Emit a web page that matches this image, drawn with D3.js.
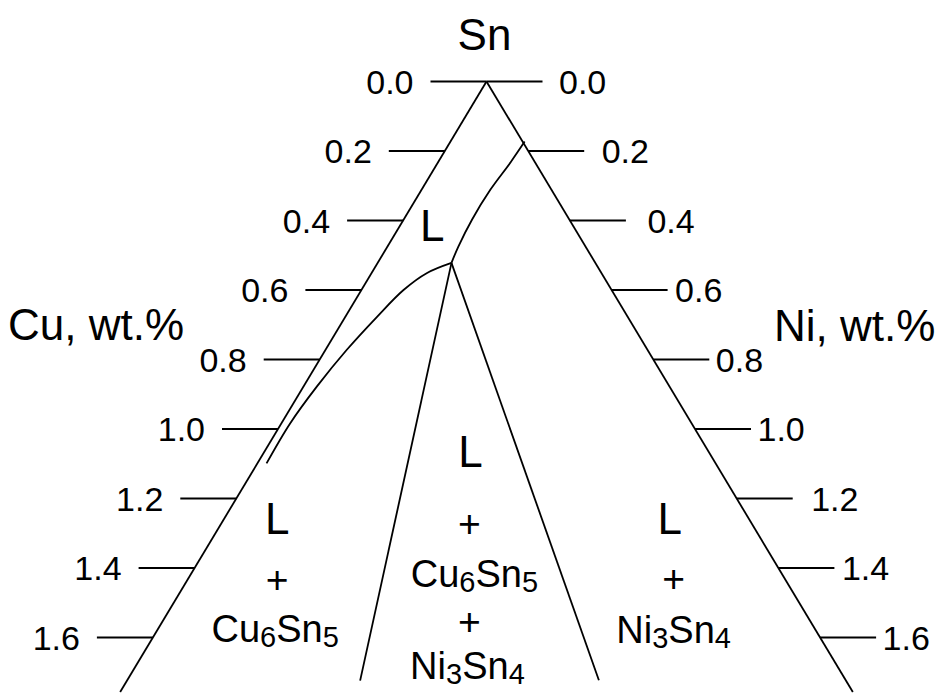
<!DOCTYPE html>
<html>
<head>
<meta charset="UTF-8">
<title>Sn-Cu-Ni corner</title>
<script src="https://d3js.org/d3.v7.min.js"></script>
<style>
  body { margin: 0; background: #fff; }
  svg text { font-family: "Liberation Sans", Arial, sans-serif; fill: #000; }
</style>
</head>
<body>
<div id="chart"></div>
<script>
// tick values on both axes (wt.%)
var tickValues = [0.0, 0.2, 0.4, 0.6, 0.8, 1.0, 1.2, 1.4, 1.6];
var tickLabels = ["0.0", "0.2", "0.4", "0.6", "0.8", "1.0", "1.2", "1.4", "1.6"];

// phase boundaries, points given as [Cu, Ni] in wt.%
var liqNi3Sn4 = [[-0.005, 0.178], [0.059, 0.174], [0.146, 0.165], [0.233, 0.164], [0.305, 0.170], [0.345, 0.177]];
var liqCu6Sn5 = [[0.345, 0.177], [0.418, 0.133], [0.499, 0.101], [0.601, 0.076], [0.721, 0.051], [0.846, 0.032], [0.963, 0.021], [1.077, 0.022]];
var cu6Sn5Tie = [[0.345, 0.177], [1.165, 0.559]];
var ni3Sn4Tie = [[0.345, 0.177], [0.592, 1.131]];
var edgeCu = [[0, 0], [1.757, 0]];
var edgeNi = [[0, 0], [0, 1.757]];

// phase field labels: anchor [Cu, Ni] and lines
var fieldAnchors = [[0.359, 0.099], [1.153, 0.149], [0.593, 0.516], [0.207, 1.095]];
var fieldLines = [
  [[["L", 0]]],
  [[["L", 0]], [["+", 0]], [["Cu", 0], ["6", 1], ["Sn", 0], ["5", 1]]],
  [[["L", 0]], [["+", 0]], [["Cu", 0], ["6", 1], ["Sn", 0], ["5", 1]], [["+", 0]], [["Ni", 0], ["3", 1], ["Sn", 0], ["4", 1]]],
  [[["L", 0]], [["+", 0]], [["Ni", 0], ["3", 1], ["Sn", 0], ["4", 1]]]
];

// layout
var width = 938, height = 695;
var tickLen = 56;
var rightGap = [18, 19, 23, 9, 8, 8, 20, 9, 8];
var lineOffsets = [
  [0],
  [0, 59, 108],
  [0, 70, 120, 168, 212],
  [0, 58, 109]
];
var lineDx = [
  [0],
  [0, 0, -2],
  [0, -1, 4, -1, -3],
  [-2, 2, 2]
];

var svg = d3.select("#chart").append("svg")
    .attr("width", width)
    .attr("height", height);

// y follows Cu + Ni, x follows Ni - Cu
var y = d3.scaleLinear().domain([0, 1.6]).range([81.5, 637.5]);
var x = d3.scaleLinear().domain([-1, 1]).range([486.5 - 208.5, 486.5 + 208.5]);

function px(d) { return x(d[1] - d[0]); }
function py(d) { return y(d[0] + d[1]); }

var line = d3.line().x(px).y(py);
var curve = d3.line().x(px).y(py).curve(d3.curveCatmullRom.alpha(0.5));

function draw(data, gen) {
  svg.append("path")
      .attr("d", gen(data))
      .attr("fill", "none")
      .attr("stroke", "#000")
      .attr("stroke-width", 1.8);
}

draw(edgeCu, line);
draw(edgeNi, line);
draw(liqNi3Sn4, curve);
draw(liqCu6Sn5, curve);
draw(cu6Sn5Tie, line);
draw(ni3Sn4Tie, line);

// ticks on Cu side (left) and Ni side (right)
tickValues.forEach(function(v, i) {
  var xl = px([v, 0]), xr = px([0, v]), ty = py([v, 0]);
  svg.append("line")
      .attr("x1", xl - tickLen).attr("x2", xl)
      .attr("y1", ty).attr("y2", ty)
      .attr("stroke", "#000").attr("stroke-width", 1.8);
  svg.append("line")
      .attr("x1", xr).attr("x2", xr + tickLen)
      .attr("y1", ty).attr("y2", ty)
      .attr("stroke", "#000").attr("stroke-width", 1.8);
  svg.append("text")
      .attr("x", xl - tickLen - 17)
      .attr("y", ty + 12)
      .attr("text-anchor", "end")
      .style("font-size", "34px")
      .text(tickLabels[i]);
  svg.append("text")
      .attr("x", xr + tickLen + rightGap[i] - 1.5)
      .attr("y", ty + 12)
      .style("font-size", "34px")
      .text(tickLabels[i]);
});

// apex and axis titles
svg.append("text")
    .attr("x", px([0, 0]) - 2)
    .attr("y", py([0, 0]) - 32)
    .attr("text-anchor", "middle")
    .style("font-size", "44px")
    .text("Sn");

svg.append("text")
    .attr("x", 8).attr("y", 340)
    .style("font-size", "44px")
    .text("Cu, wt.%");

svg.append("text")
    .attr("x", 774).attr("y", 341)
    .style("font-size", "44px")
    .text("Ni, wt.%");

// phase field labels
fieldAnchors.forEach(function(a, k) {
  var ax = px(a), ay = py(a);
  fieldLines[k].forEach(function(parts, j) {
    var isFormula = parts.length > 1;
    var size = isFormula ? 38 : (parts[0][0] == "+" ? 39 : 44);
    var t = svg.append("text")
        .attr("x", ax + lineDx[k][j])
        .attr("y", ay + lineOffsets[k][j])
        .attr("text-anchor", "middle")
        .style("font-size", size + "px");
    var shifted = false;
    parts.forEach(function(p) {
      var s = t.append("tspan").text(p[0]);
      if (p[1]) {
        s.style("font-size", "29px").attr("dy", 5);
        shifted = true;
      } else if (shifted) {
        s.attr("dy", -5);
        shifted = false;
      }
    });
  });
});
</script>
</body>
</html>
